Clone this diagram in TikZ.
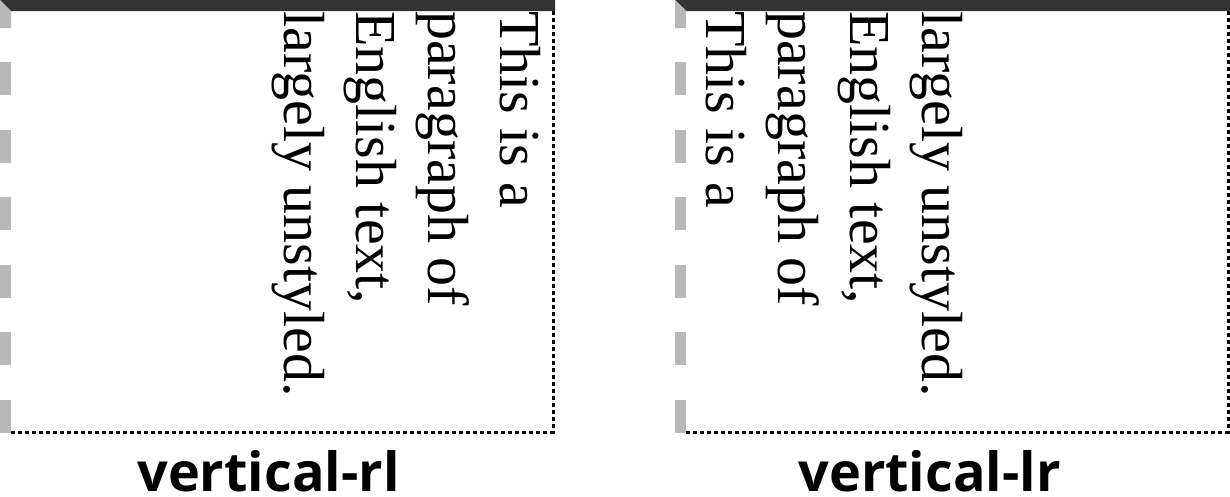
\documentclass[tikz,border=0pt]{standalone}
\usepackage{fontspec}
\setmainfont{Liberation Serif}
\newfontfamily\labelfont{Open Sans}
\usetikzlibrary{positioning}
\definecolor{topColor}{RGB}{51,51,51}
\definecolor{dashColor}{RGB}{184,184,184}
\tikzset{vline/.style={rotate=-90, anchor=base west, inner sep=0pt, font=\fontsize{58}{72}\selectfont}}
\tikzset{modelabel/.style={anchor=base, inner sep=0pt, text depth=0pt, font=\labelfont\bfseries\fontsize{54}{60}\selectfont}}
\tikzset{dotborder/.style={draw=black, line width=3.5pt, dash pattern=on 3.5pt off 3.5pt}}

\begin{document}
\begin{tikzpicture}[x=1pt,y=-1pt]
\useasboundingbox (0,0) rectangle (1230,496);

% Boxes
\foreach \ox in {0,675} {
  \fill[topColor] (\ox,0) -- (\ox+555,0) -- (\ox+555,11) -- (\ox+11,11) -- cycle;
  \fill[dashColor] (\ox,0) -- (\ox+11,11) -- (\ox+11,28) -- (\ox,28) -- cycle;
  \foreach \k in {0,...,5}
    \fill[dashColor] (\ox,62+67.6*\k) rectangle (\ox+11,95+67.6*\k);
  \draw[dotborder] (\ox+553.25,11) -- (\ox+553.25,434);
  \draw[dotborder] (\ox+11,432.25) -- (\ox+555,432.25);
}

% Nodes
\node (rlA) [vline] at (500,11) {This is a};
\node (rlB) [vline] at (428,11) {paragraph of};
\node (rlC) [vline] at (356,11) {English text,};
\node (rlD) [vline] at (284,11) {largely unstyled.};

\node (lrA) [vline] at (706.5,11) {This is a};
\node (lrB) [vline] at (778.5,11) {paragraph of};
\node (lrC) [vline] at (850.5,11) {English text,};
\node (lrD) [vline] at (922.5,11) {largely unstyled.};

\node (rlLabel) [modelabel] at (268.5,491) {vertical-rl};
\node (lrLabel) [modelabel] at (929.5,491) {vertical-lr};

\end{tikzpicture}
\end{document}
